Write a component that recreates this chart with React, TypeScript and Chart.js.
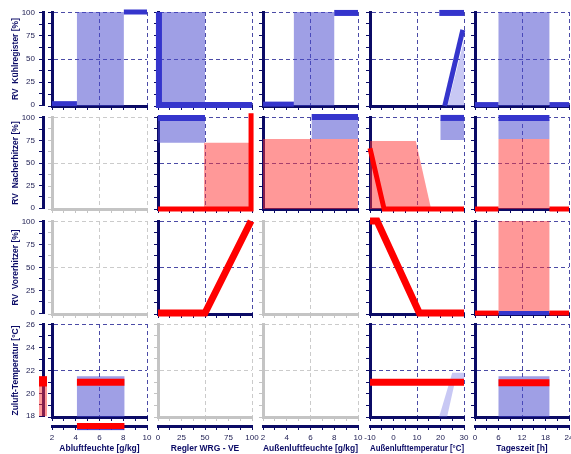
import React, { useEffect, useRef } from "react";
import { Chart, registerables } from "chart.js";

Chart.register(...registerables);

// ---------------- Axis data ----------------
const xTitles = [
  "Abluftfeuchte [g/kg]",
  "Regler WRG - VE",
  "Außenluftfeuchte [g/kg]",
  "Außenlufttemperatur [°C]",
  "Tageszeit [h]",
];
const xMins = [2, 0, 2, -10, 0];
const xMaxs = [10, 100, 10, 30, 24];
const xTickLabels = [
  ["2", "4", "6", "8", "10"],
  ["0", "25", "50", "75", "100"],
  ["2", "4", "6", "8", "10"],
  ["-10", "0", "10", "20", "30"],
  ["0", "6", "12", "18", "24"],
];
const yTitles = [
  "RV  Kühlregister [%]",
  "RV  Nacherhitzer [%]",
  "RV  Vorerhitzer [%]",
  "Zuluft-Temperatur [°C]",
];
const yMins = [0, 0, 0, 18];
const yMaxs = [100, 100, 100, 26];
const yTickLabels = [
  ["0", "25", "50", "75", "100"],
  ["0", "25", "50", "75", "100"],
  ["0", "25", "50", "75", "100"],
  ["18", "20", "22", "24", "26"],
];
// 1 = active panel (navy), 0 = inactive (grey)
const activePanels = [
  [1, 1, 1, 1, 1],
  [0, 1, 1, 1, 1],
  [0, 1, 0, 1, 1],
  [1, 0, 0, 1, 1],
];

// ---------------- Series data ----------------
// Row 1 – RV Kühlregister [%]
const kuehlAbluftBand = [[4.1, 0], [4.1, 102], [8.05, 102], [8.05, 0]];
const kuehlAbluftLow = [[2, 2.5], [4.1, 2.5]];
const kuehlAbluftHigh = [[8.05, 100], [10, 100]];
const kuehlWrgBand = [[0, 0], [0, 100], [50, 100], [50, 0]];
const kuehlWrgCurve = [[1, 100], [1, 1], [100, 1]];
const kuehlAufBand = [[4.6, 0], [4.6, 100], [8, 100], [8, 0]];
const kuehlAufLow = [[2, 2], [4.6, 2]];
const kuehlAufHigh = [[8, 99], [10, 99]];
const kuehlTempBand = [[23, 0], [30, 0], [30, 70]];
const kuehlTempCurve = [[21.8, 0], [29.5, 81]];
const kuehlTempHigh = [[19.5, 99], [30, 99]];
const kuehlZeitBand = [[6, 0], [6, 100], [19, 100], [19, 0]];
const kuehlZeitNight1 = [[0, 1.5], [6, 1.5]];
const kuehlZeitNight2 = [[19, 1.5], [24, 1.5]];

// Row 2 – RV Nacherhitzer [%]
const nachWrgHeat = [[49, 0], [49, 72], [100, 72], [100, 0]];
const nachWrgBand = [[0, 72], [0, 97], [50, 97], [50, 72]];
const nachWrgTop = [[0, 99], [50, 99]];
const nachWrgCurve = [[0, 0], [99, 0], [99, 104]];
const nachAufHeat = [[2, 0], [2, 76], [10, 76], [10, 0]];
const nachAufBand = [[6.1, 76], [6.1, 97], [10, 97], [10, 76]];
const nachAufTop = [[6.1, 100], [10, 100]];
const nachTempHeat = [[-10, 0], [-10, 74], [9.5, 74], [16, 0]];
const nachTempBand = [[20, 75], [20, 97], [30, 97], [30, 75]];
const nachTempTop = [[20, 99], [30, 99]];
const nachTempCurve = [[-10, 66], [-4, 0], [30, 0]];
const nachZeitHeat = [[6, 0], [6, 76], [19, 76], [19, 0]];
const nachZeitBand = [[6, 76], [6, 97], [19, 97], [19, 76]];
const nachZeitTop = [[6, 99], [19, 99]];
const nachZeitNight1 = [[0, 0], [6, 0]];
const nachZeitNight2 = [[19, 0], [24, 0]];

// Row 3 – RV Vorerhitzer [%]
const vorWrgCurve = [[0, 1], [50, 1], [99, 100]];
const vorTempCurve = [[-10, 100], [-7, 100], [11, 1], [30, 1]];
const vorZeitHeat = [[6, 0], [6, 100], [19, 100], [19, 0]];
const vorZeitDay = [[6, 1], [19, 1]];
const vorZeitNight1 = [[0, 1], [6, 1]];
const vorZeitNight2 = [[19, 1], [24, 1]];

// Row 4 – Zuluft-Temperatur [°C]
const zulAbluftBand = [[4.1, 18], [4.1, 21.5], [8.1, 21.5], [8.1, 18]];
const zulAbluftSet = [[4.1, 21.0], [8.1, 21.0]];
const zulTempBand = [[19.4, 18], [22.8, 18], [26, 20.9], [30, 20.9], [30, 21.8], [25, 21.8]];
const zulTempSet = [[-10, 21.0], [30, 21.0]];
const zulZeitBand = [[6, 18], [6, 21.5], [19, 21.5], [19, 18]];
const zulZeitSet = [[6, 20.95], [19, 20.95]];

// Marginal strips (left: supply temperature, bottom: extract-air humidity)
const zulMarginBand = [[0, 18], [0, 21.5]];
const zulMarginSet = [[0, 20.6], [0, 21.5]];
const abluftMarginSet = [[4.1, 0], [8.1, 0]];
const abluftMarginLine = [[4.1, -0.6], [8.1, -0.6]];

// ---------------- Styles / layout ----------------
const COLS = [[52, 147], [158, 252], [263, 358], [370, 464], [475, 569]];
const ROWS = [[12, 106], [117, 209], [221, 314], [324, 417]];
const PAD = 8;

const NAVY = "#0b0b66";
const NAVY_DASH = "#4b4ba6";
const GRAY_AXIS = "#c4c4c4";
const GRAY_DASH = "#cbcbcb";
const BLUE = "#3535cc";
const RED = "#ff0000";
const LABEL = "#1c1c50";
const FONT = "'Liberation Sans', Arial, sans-serif";

const FILLS: Record<string, string> = {
  areablue: "rgba(70,70,205,0.52)",
  areared: "rgba(255,50,50,0.5)",
  lightblue: "rgba(110,110,225,0.38)",
  lightred: "rgba(255,110,110,0.38)",
};

type Kind = "line" | "area" | "light" | "band";
type Mark = { pts: number[][]; kind: Kind; color: "blue" | "red"; w?: number };
const Ln = (pts: number[][], color: "blue" | "red", w: number): Mark => ({ pts, kind: "line", color, w });
const Ar = (pts: number[][], color: "blue" | "red"): Mark => ({ pts, kind: "area", color });
const Lt = (pts: number[][], color: "blue" | "red"): Mark => ({ pts, kind: "light", color });
const Bd = (pts: number[][], color: "blue" | "red", w: number): Mark => ({ pts, kind: "band", color, w });

// Marks listed bottom-to-top (first entry is drawn underneath)
const panelMarks: Mark[][][] = [
  [
    [Ar(kuehlAbluftBand, "blue"), Ln(kuehlAbluftLow, "blue", 5), Ln(kuehlAbluftHigh, "blue", 5)],
    [Ar(kuehlWrgBand, "blue"), Ln(kuehlWrgCurve, "blue", 6)],
    [Ar(kuehlAufBand, "blue"), Ln(kuehlAufLow, "blue", 5), Ln(kuehlAufHigh, "blue", 6)],
    [Lt(kuehlTempBand, "blue"), Ln(kuehlTempCurve, "blue", 5), Ln(kuehlTempHigh, "blue", 6)],
    [Ar(kuehlZeitBand, "blue"), Ln(kuehlZeitNight1, "blue", 5), Ln(kuehlZeitNight2, "blue", 5)],
  ],
  [
    [],
    [Ar(nachWrgHeat, "red"), Ar(nachWrgBand, "blue"), Ln(nachWrgTop, "blue", 6), Ln(nachWrgCurve, "red", 5)],
    [Ar(nachAufHeat, "red"), Ar(nachAufBand, "blue"), Ln(nachAufTop, "blue", 6)],
    [Ar(nachTempHeat, "red"), Ar(nachTempBand, "blue"), Ln(nachTempTop, "blue", 6), Ln(nachTempCurve, "red", 5)],
    [Ar(nachZeitHeat, "red"), Ar(nachZeitBand, "blue"), Ln(nachZeitTop, "blue", 6), Ln(nachZeitNight1, "red", 5), Ln(nachZeitNight2, "red", 5)],
  ],
  [
    [],
    [Ln(vorWrgCurve, "red", 7)],
    [],
    [Ln(vorTempCurve, "red", 7)],
    [Ar(vorZeitHeat, "red"), Ln(vorZeitDay, "blue", 4), Ln(vorZeitNight1, "red", 5), Ln(vorZeitNight2, "red", 5)],
  ],
  [
    [Ar(zulAbluftBand, "blue"), Ln(zulAbluftSet, "red", 7)],
    [],
    [],
    [Lt(zulTempBand, "blue"), Ln(zulTempSet, "red", 7)],
    [Ar(zulZeitBand, "blue"), Ln(zulZeitSet, "red", 7)],
  ],
];
const leftMarginMarks: Mark[][] = [[], [], [], [Bd(zulMarginBand, "red", 8), Ln(zulMarginSet, "red", 8)]];
const bottomMarginMarks: Mark[][] = [[Ln(abluftMarginLine, "blue", 1), Ln(abluftMarginSet, "red", 6)], [], [], [], []];

// ---------------- Helpers ----------------
function markDataset(m: Mark, order: number) {
  const data = m.pts.map(([x, y]) => ({ x, y }));
  const col = m.color === "red" ? RED : BLUE;
  const base = { data, order, pointRadius: 0, pointHoverRadius: 0, tension: 0, clip: false as const, spanGaps: true };
  if (m.kind === "line" || m.kind === "band") {
    return {
      ...base,
      borderColor: m.kind === "band" ? FILLS["area" + m.color] : col,
      borderWidth: m.w,
      fill: false,
      borderCapStyle: "butt",
      borderJoinStyle: "miter",
    };
  }
  return { ...base, borderColor: "rgba(0,0,0,0)", borderWidth: 0, backgroundColor: FILLS[m.kind + m.color], fill: "shape" };
}

// Chart.js paints higher "order" first, so the first mark gets the highest order.
const toDatasets = (marks: Mark[]) => marks.map((m, i) => markDataset(m, marks.length - i));

const eightTicks = (min: number, max: number) =>
  Array.from({ length: 9 }, (_, i) => ({ value: min + ((max - min) * i) / 8 }));

function panelAxis(axis: "x" | "y", min: number, max: number, axisColor: string, dashColor: string) {
  return {
    type: "linear",
    position: axis === "x" ? "bottom" : "left",
    min,
    max,
    afterBuildTicks: (s: any) => {
      s.ticks = eightTicks(min, max);
    },
    afterFit: (s: any) => {
      if (axis === "x") s.height = 0;
      else s.width = 0;
    },
    ticks: { display: false },
    grid: {
      color: (ctx: any) => (ctx.index === 4 || ctx.index === 8 ? dashColor : "rgba(0,0,0,0)"),
      lineWidth: 1,
      drawTicks: true,
      tickLength: 4,
      tickWidth: 1,
      tickColor: axisColor,
    },
    border: { display: true, color: axisColor, width: 3, dash: [4, 3] },
  };
}

const baseOptions = (padding: any) => ({
  animation: false,
  responsive: false,
  devicePixelRatio: 1,
  events: [],
  layout: { padding },
  plugins: { legend: { display: false }, tooltip: { enabled: false } },
});

function panelConfig(r: number, c: number) {
  const active = activePanels[r][c] === 1;
  const axisColor = active ? NAVY : GRAY_AXIS;
  const dashColor = active ? NAVY_DASH : GRAY_DASH;
  return {
    type: "line",
    data: { datasets: toDatasets(panelMarks[r][c]) },
    options: {
      ...baseOptions(PAD),
      scales: {
        x: panelAxis("x", xMins[c], xMaxs[c], axisColor, dashColor),
        y: panelAxis("y", yMins[r], yMaxs[r], axisColor, dashColor),
      },
    },
  };
}

function leftStripConfig(r: number) {
  return {
    type: "line",
    data: { datasets: toDatasets(leftMarginMarks[r]) },
    options: {
      ...baseOptions({ left: 0, right: 6, top: PAD, bottom: PAD }),
      scales: {
        x: { type: "linear", min: 0, max: 1, display: false },
        y: {
          type: "linear",
          position: "left",
          min: yMins[r],
          max: yMaxs[r],
          afterBuildTicks: (s: any) => {
            s.ticks = eightTicks(yMins[r], yMaxs[r]);
          },
          afterFit: (s: any) => {
            s.width = 43;
          },
          ticks: {
            autoSkip: false,
            padding: 4,
            color: LABEL,
            font: { family: FONT, size: 8 },
            callback: (_v: any, i: number) => (i % 2 === 0 ? yTickLabels[r][i / 2] : ""),
          },
          grid: { drawOnChartArea: false, drawTicks: true, tickLength: 4, tickColor: NAVY, color: NAVY },
          border: { color: NAVY, width: 3 },
          title: {
            display: true,
            text: yTitles[r],
            color: NAVY,
            font: { family: FONT, size: 8.5, weight: "bold" },
            padding: { top: 11, bottom: 0 },
          },
        },
      },
    },
  };
}

function bottomStripConfig(c: number) {
  return {
    type: "line",
    data: { datasets: toDatasets(bottomMarginMarks[c]) },
    options: {
      ...baseOptions({ left: 12, right: 12, top: 6, bottom: 0 }),
      scales: {
        x: {
          type: "linear",
          position: "bottom",
          min: xMins[c],
          max: xMaxs[c],
          afterBuildTicks: (s: any) => {
            s.ticks = eightTicks(xMins[c], xMaxs[c]);
          },
          afterFit: (s: any) => {
            s.height = 28;
          },
          ticks: {
            autoSkip: false,
            maxRotation: 0,
            minRotation: 0,
            padding: 3,
            color: LABEL,
            font: { family: FONT, size: 8 },
            callback: (_v: any, i: number) => (i % 2 === 0 ? xTickLabels[c][i / 2] : ""),
          },
          grid: { drawOnChartArea: false, drawTicks: true, tickLength: 4, tickColor: NAVY, color: NAVY },
          border: { color: NAVY, width: 3 },
          title: {
            display: true,
            text: xTitles[c],
            color: NAVY,
            font: { family: FONT, size: 8.5, weight: "bold" },
            padding: { top: 0, bottom: 0 },
          },
        },
        y: { type: "linear", min: 0, max: 1, display: false },
      },
    },
  };
}

type Spec = { left: number; top: number; width: number; height: number; make: () => any };

function buildSpecs(): Spec[] {
  const specs: Spec[] = [];
  ROWS.forEach(([t, b], r) => {
    specs.push({ left: 0, top: t - PAD, width: 53, height: b - t + 2 * PAD, make: () => leftStripConfig(r) });
    COLS.forEach(([l, rr], c) => {
      specs.push({
        left: l - PAD,
        top: t - PAD,
        width: rr - l + 2 * PAD,
        height: b - t + 2 * PAD,
        make: () => panelConfig(r, c),
      });
    });
  });
  COLS.forEach(([l, rr], c) => {
    specs.push({ left: l - 12, top: 414, width: rr - l + 24, height: 40, make: () => bottomStripConfig(c) });
  });
  return specs;
}

const SPECS = buildSpecs();

export default function App() {
  const refs = useRef<(HTMLCanvasElement | null)[]>([]);
  useEffect(() => {
    Chart.defaults.font.family = FONT;
    const charts = SPECS.map((s, i) => new Chart(refs.current[i] as HTMLCanvasElement, s.make()));
    return () => charts.forEach((ch) => ch.destroy());
  }, []);
  return (
    <div
      style={{
        position: "absolute",
        left: 0,
        top: 0,
        width: 571,
        height: 454,
        background: "#ffffff",
        overflow: "hidden",
      }}
    >
      {SPECS.map((s, i) => (
        <canvas
          key={i}
          ref={(el) => {
            refs.current[i] = el;
          }}
          width={s.width}
          height={s.height}
          style={{ position: "absolute", left: s.left, top: s.top, width: s.width, height: s.height }}
        />
      ))}
    </div>
  );
}
